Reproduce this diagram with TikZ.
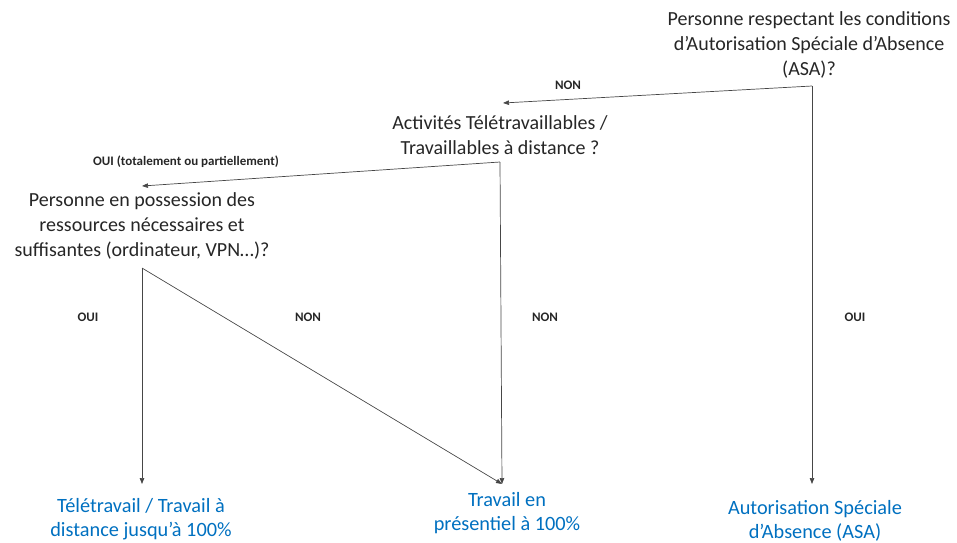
\documentclass[tikz,border=0pt]{standalone}
\usepackage{fontspec}
\setmainfont{Carlito}
\usetikzlibrary{arrows.meta}
\definecolor{linegray}{RGB}{70,70,70}
\definecolor{resblue}{RGB}{0,112,192}
\tikzset{
  question/.style={align=center, inner sep=0pt, font=\fontsize{20}{25}\selectfont, text=black!85},
  result/.style={align=center, inner sep=0pt, font=\fontsize{20.3}{23.5}\selectfont, text=resblue},
  lab/.style={inner sep=0pt, font=\bfseries\fontsize{13}{15}\selectfont, text=black!85},
  conn/.style={draw=linegray, line width=0.7pt},
  arr/.style={conn, -{Triangle[length=6pt,width=4.5pt]}}
}
\begin{document}
\begin{tikzpicture}[x=1pt,y=-1pt]
\useasboundingbox (0,0) rectangle (957,542);
% questions
\node[question] (q1) at (809,45) {Personne respectant les conditions\\d’Autorisation Spéciale d’Absence\\(ASA)?};
\node[question] (q2) at (500,135) {Activités Télétravaillables /\\Travaillables à distance ?};
\node[question] (q3) at (142,226) {Personne en possession des\\ressources nécessaires et\\suffisantes (ordinateur, VPN…)?};
% results
\node[result] (r1) at (141,519) {Télétravail / Travail à\\distance jusqu’à 100\%};
\node[result] (r2) at (507,513) {Travail en\\présentiel à 100\%};
\node[result] (r3) at (815,521) {Autorisation Spéciale\\d’Absence (ASA)};
% connector points
\coordinate (c1) at (812,86);
\coordinate (c2) at (500,162);
\coordinate (c3) at (142,268);
\coordinate (q2in) at (503,103);
\coordinate (q3in) at (142,186);
\coordinate (r1in) at (142,484);
\coordinate (r2in) at (502,484);
\coordinate (r3in) at (812,484);
% connectors
\draw[arr] (c1) -- (q2in);
\draw[arr] (c1) -- (r3in);
\draw[arr] (c2) -- (q3in);
\draw[arr] (c2) -- (r2in);
\draw[arr] (c3) -- (r1in);
\draw[arr] (c3) -- (r2in);
% labels
\node[lab] (l1) at (568,85) {NON};
\node[lab] (l2) at (186,162) {OUI (totalement ou partiellement)};
\node[lab] (l3) at (88,317) {OUI};
\node[lab] (l4) at (308,317) {NON};
\node[lab] (l5) at (545,317) {NON};
\node[lab] (l6) at (855,317) {OUI};
\end{tikzpicture}
\end{document}
